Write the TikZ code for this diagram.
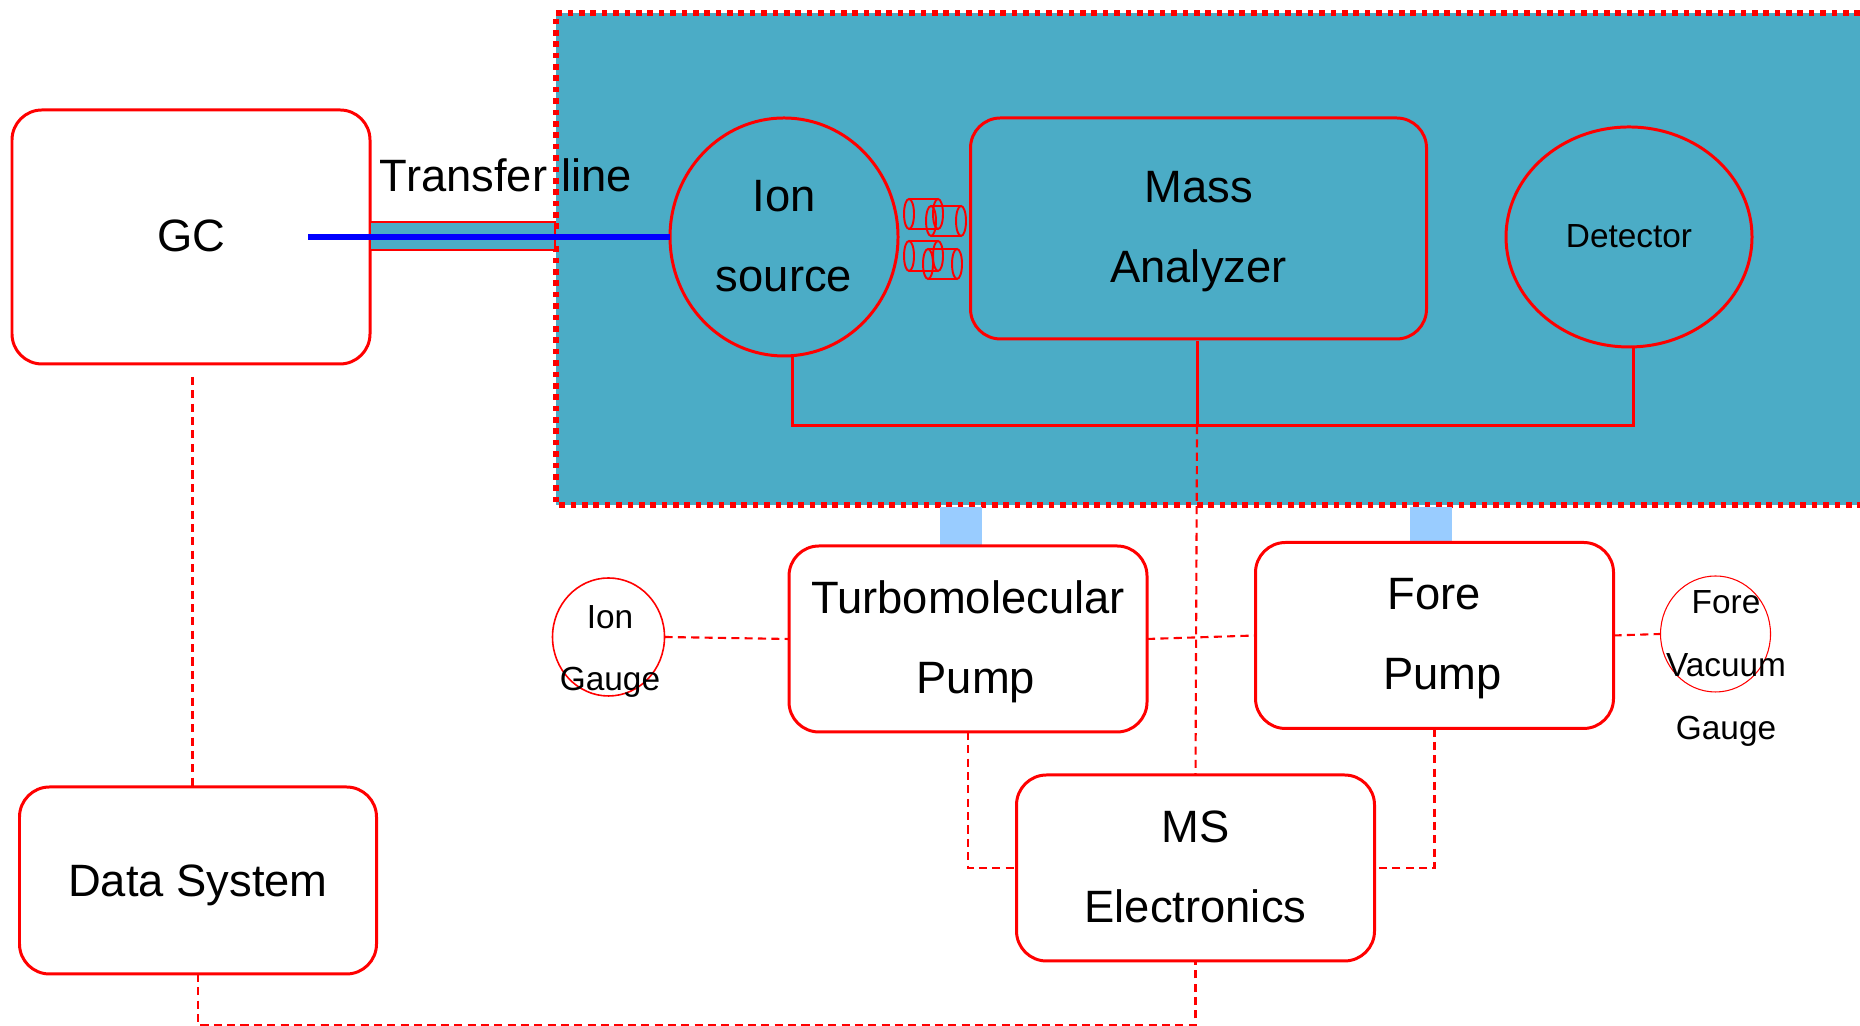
\documentclass[tikz,border=0pt]{standalone}
\usepackage{fontspec}
\setmainfont{Liberation Sans}
\usetikzlibrary{shapes.geometric}
\definecolor{panelblue}{RGB}{75,172,198}
\definecolor{pumpblue}{RGB}{153,204,255}
\newcommand{\lowered}[2]{\raisebox{-#1}[\height][\depth]{#2}}
\tikzset{
  bigtext/.style={font=\fontsize{12.9}{22.8}\selectfont,align=center},
  smalltext/.style={font=\fontsize{9.5}{17.8}\selectfont,align=center},
  unitbox/.style={draw=red,line width=0.85pt,rounded corners=0.3cm,outer sep=0pt,inner sep=0pt,bigtext},
  unitround/.style={ellipse,draw=red,line width=0.85pt,outer sep=0pt,inner sep=0pt},
  gauge/.style={ellipse,draw=red,line width=0.3pt,outer sep=0pt,inner sep=0pt},
  wire/.style={red,line width=0.85pt},
  dashwire/.style={red,line width=0.6pt,dash pattern=on 2.3pt off 1.5pt},
  lens/.style={red,line width=0.55pt},
}

\begin{document}
\begin{tikzpicture}
  \useasboundingbox (0,0) rectangle (18.6,10.26);
  % Vacuum chamber
  \fill[panelblue] (5.56,5.21) rectangle (18.6,10.13);
  \draw[red,line width=1.6pt,dash pattern=on 1.6pt off 1.64pt] (18.6,10.13) -- (5.56,10.13) -- (5.56,5.21) -- (18.6,5.21);
  % Pump throats
  \fill[pumpblue] (9.40,5.19) rectangle (9.82,4.80);
  \fill[pumpblue] (14.10,5.19) rectangle (14.52,4.83);
  % Units
  \node[unitbox,minimum width=3.58cm,minimum height=2.54cm] (gc) at (1.91,7.89) {\lowered{-0.3pt}{GC}};
  \node[unitbox,minimum width=3.57cm,minimum height=1.87cm] (data) at (1.98,1.455) {\lowered{1.3pt}{Data System}};
  \node[unitbox,minimum width=3.58cm,minimum height=1.86cm] (turbo) at (9.68,3.87) {\lowered{0.8pt}{Turbomolecular}\\\hspace{4.5pt}\lowered{0.8pt}{Pump}};
  \node[unitbox,minimum width=3.58cm,minimum height=1.86cm] (fore) at (14.345,3.905) {\lowered{1pt}{Fore}\\\hspace{4.5pt}\lowered{1pt}{Pump}};
  \node[unitbox,minimum width=3.58cm,minimum height=1.86cm] (ms) at (11.955,1.58) {\lowered{-0.3pt}{MS}\\\lowered{-0.3pt}{Electronics}};
  \node[unitbox,minimum width=4.56cm,minimum height=2.21cm] (analyzer) at (11.985,7.975) {\lowered{0.85pt}{Mass}\\\lowered{0.85pt}{Analyzer}};
  \node[unitround,bigtext,minimum width=2.28cm,minimum height=2.38cm] (ionsource) at (7.84,7.89) {\lowered{-0.3pt}{Ion}\\\lowered{-0.3pt}{source}};
  \node[unitround,smalltext,minimum width=2.46cm,minimum height=2.20cm] (detector) at (16.29,7.89) {\lowered{-0.3pt}{Detector}};
  % Gauges, their text runs over the circle
  \node[gauge,line width=0.45pt,minimum width=1.12cm,minimum height=1.18cm] (iongauge) at (6.085,3.89) {};
  \node[gauge,minimum width=1.10cm,minimum height=1.16cm] (foregauge) at (17.155,3.92) {};
  \node[smalltext] (iontext) at (6.10,3.745) {Ion\\Gauge};
  \node[smalltext] (foretext) at (17.26,3.575) {Fore\\Vacuum\\Gauge};
  % Transfer line
  \node[draw=red,line width=0.8pt,fill=panelblue,minimum width=1.85cm,minimum height=0.28cm,outer sep=0pt,inner sep=0pt] (tube) at (4.625,7.90) {};
  \draw[blue,line width=1.7pt] ([xshift=-0.62cm]gc.east) -- (ionsource.west);
  \node[bigtext,anchor=base] (tubetext) at (5.06,8.34) {Transfer\hspace{0.5pt} line};
  % Ion optics
  \foreach \cx/\cy/\len in {9.09/8.12/0.29, 9.31/8.05/0.30, 9.09/7.70/0.29, 9.28/7.62/0.29} {
    \draw[lens] (\cx,\cy) ellipse (0.05 and 0.15);
    \draw[lens] (\cx+\len,\cy) ellipse (0.05 and 0.15);
    \draw[lens] (\cx,\cy+0.15) -- (\cx+\len,\cy+0.15);
    \draw[lens] (\cx,\cy-0.15) -- (\cx+\len,\cy-0.15);
  }
  % Signal bus
  \coordinate (bus) at (11.97,6.00);
  \draw[wire] ([xshift=0.08cm,yshift=-0.01cm]ionsource.south) |- (bus) -| ([xshift=0.04cm]detector.south);
  \draw[wire] (bus |- 0,6.85) -- (bus);
  % Dashed links
  \draw[dashwire] (bus) -- (ms.north);
  \draw[dashwire] ([xshift=0.015cm,yshift=-0.13cm]gc.south) -- ([xshift=0.015cm]gc.south |- data.north);
  \draw[dashwire] (iongauge.east) -- (turbo.west);
  \draw[dashwire] (turbo.east) -- (fore.west);
  \draw[dashwire] (fore.east) -- (foregauge.west);
  \draw[dashwire] (turbo.south) |- (ms.west);
  \draw[dashwire] (fore.south) |- (ms.east);
  \draw[dashwire] (data.south) -- ++(0,-0.51) -| (ms.south);
\end{tikzpicture}
\end{document}
